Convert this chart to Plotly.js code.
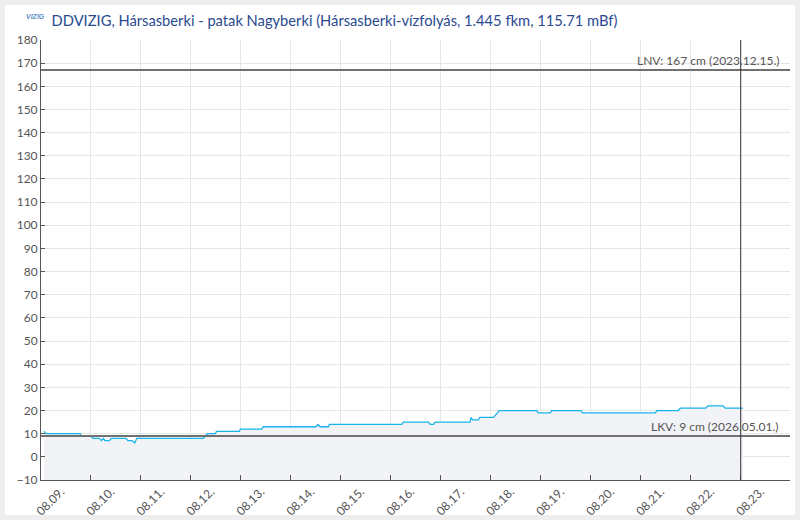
<!DOCTYPE html>
<html>
<head>
<meta charset="utf-8">
<script src="https://cdn.plot.ly/plotly-3.0.1.min.js"></script>
<style>
  html, body { margin: 0; padding: 0; background: #eeeeee; width: 800px; height: 520px; overflow: hidden; }
  #card { position: absolute; left: 5px; top: 5px; width: 790px; height: 510px; background: #ffffff; }
  #chart { position: absolute; left: 5px; top: 5px; width: 790px; height: 515px; }
</style>
</head>
<body>
<div id="card"></div>
<div id="chart"></div>
<script>
// ---- data ----
const times = [
  '2026-08-09 01:30', '2026-08-09 02:30', '2026-08-09 18:45', '2026-08-09 19:30',
  '2026-08-10 00:00', '2026-08-10 01:00', '2026-08-10 04:00', '2026-08-10 05:00',
  '2026-08-10 06:00', '2026-08-10 06:45', '2026-08-10 08:45', '2026-08-10 09:45',
  '2026-08-10 16:45', '2026-08-10 17:45', '2026-08-10 19:45', '2026-08-10 21:00',
  '2026-08-10 22:00', '2026-08-12 06:00', '2026-08-12 07:00', '2026-08-12 08:00',
  '2026-08-12 11:45', '2026-08-12 12:15', '2026-08-12 23:15', '2026-08-12 23:45',
  '2026-08-13 10:00', '2026-08-13 10:45', '2026-08-14 12:00', '2026-08-14 13:00',
  '2026-08-14 14:00', '2026-08-14 18:00', '2026-08-14 18:30', '2026-08-16 05:15',
  '2026-08-16 06:00', '2026-08-16 18:00', '2026-08-16 19:00', '2026-08-16 20:30',
  '2026-08-16 21:15', '2026-08-17 14:00', '2026-08-17 14:30', '2026-08-17 15:15',
  '2026-08-17 18:00', '2026-08-17 18:45', '2026-08-18 01:15', '2026-08-18 02:30',
  '2026-08-18 03:15', '2026-08-18 04:00', '2026-08-18 22:00', '2026-08-18 22:45',
  '2026-08-19 04:30', '2026-08-19 05:15', '2026-08-19 19:15', '2026-08-19 20:00',
  '2026-08-21 07:00', '2026-08-21 07:45', '2026-08-21 18:00', '2026-08-21 19:00',
  '2026-08-22 07:15', '2026-08-22 08:15', '2026-08-22 15:30', '2026-08-22 16:30',
  '2026-08-23 01:00'
];
const levels = [
  11, 10, 10, 9,
  9, 8, 8, 7,
  8, 7, 7, 8,
  8, 7, 7, 6,
  8, 8, 9, 10,
  10, 11, 11, 12,
  12, 13, 13, 14,
  13, 13, 14, 14,
  15, 15, 14, 14,
  15, 15, 17, 16,
  16, 17, 17, 18,
  19, 20, 20, 19,
  19, 20, 20, 19,
  19, 20, 20, 21,
  21, 22, 22, 21,
  21
];

const titleText = 'DDVIZIG, Hársasberki - patak Nagyberki (Hársasberki-vízfolyás, 1.445 fkm, 115.71 mBf)';
const yMin = -10, yMax = 180;
const xStart = '2026-08-09 00:00', xEnd = '2026-08-23 23:40';
const lnvValue = 167, lnvLabel = 'LNV: 167 cm (2023.12.15.)';
const lkvValue = 9, lkvLabel = 'LKV: 9 cm (2026.05.01.)';
const nowMarker = '2026-08-23 00:00';

// ---- traces ----
const baseline = {
  x: [times[0], times[times.length - 1]],
  y: [yMin, yMin],
  mode: 'lines', line: { width: 0, color: 'rgba(0,0,0,0)' },
  hoverinfo: 'skip', showlegend: false
};
const series = {
  x: times, y: levels,
  mode: 'lines', line: { color: '#17b3ec', width: 1.3 },
  fill: 'tonexty', fillcolor: '#f2f3f7',
  hoverinfo: 'skip', showlegend: false
};

const tickFont = { family: 'Lato, "Open Sans", sans-serif', size: 12, color: '#555555' };

const layout = {
  width: 790, height: 515,
  margin: { l: 36, r: 5, t: 35, b: 40 },
  paper_bgcolor: 'rgba(0,0,0,0)', plot_bgcolor: '#ffffff',
  showlegend: false,
  title: {
    text: titleText,
    font: { family: 'Lato, "Open Sans", sans-serif', size: 14.7, color: '#2a4a90' },
    xref: 'container', x: 0.059, xanchor: 'left',
    yref: 'container', y: 1 - 15.7 / 515, yanchor: 'middle'
  },
  xaxis: {
    type: 'date', range: [xStart, xEnd],
    dtick: 86400000, tick0: xStart, tickformat: '%m.%d.',
    tickangle: -45, ticklabelshift: 20, ticklabelstandoff: -1,
    ticks: 'inside', ticklen: 5, tickcolor: '#555555',
    showline: true, linecolor: '#555555', linewidth: 1,
    showgrid: true, gridcolor: '#e6e6e6', gridwidth: 1,
    zeroline: false, tickfont: tickFont, automargin: false, fixedrange: true
  },
  yaxis: {
    range: [yMin, yMax], dtick: 10, tick0: 0,
    ticks: 'inside', ticklen: 4, tickcolor: '#555555',
    showline: true, linecolor: '#555555', linewidth: 1,
    showgrid: true, gridcolor: '#e6e6e6', gridwidth: 1,
    zeroline: false, tickfont: tickFont, automargin: false, fixedrange: true
  },
  shapes: [
    { type: 'line', xref: 'paper', x0: 0, x1: 1, yref: 'y', y0: lnvValue, y1: lnvValue,
      line: { color: '#707070', width: 2 } },
    { type: 'line', xref: 'paper', x0: 0, x1: 1, yref: 'y', y0: lkvValue, y1: lkvValue,
      line: { color: '#707070', width: 2 } },
    { type: 'line', xref: 'x', x0: nowMarker, x1: nowMarker, yref: 'paper', y0: 0, y1: 1,
      line: { color: '#333333', width: 1 } }
  ],
  annotations: [
    { xref: 'paper', x: 0.989, xanchor: 'right', yref: 'y', y: lnvValue, yanchor: 'bottom',
      text: lnvLabel, showarrow: false, font: tickFont },
    { xref: 'paper', x: 0.987, xanchor: 'right', yref: 'y', y: lkvValue, yanchor: 'bottom',
      text: lkvLabel, showarrow: false, font: tickFont },
    { xref: 'paper', x: -0.008, xanchor: 'center', yref: 'paper', y: 1, yanchor: 'middle', yshift: 24,
      text: '<i><b>VIZIG</b></i>', showarrow: false,
      font: { family: 'Arial, sans-serif', size: 7, color: '#5a8fc8' } }
  ]
};

Plotly.newPlot('chart', [baseline, series], layout, { displayModeBar: false, staticPlot: true });
</script>
</body>
</html>
